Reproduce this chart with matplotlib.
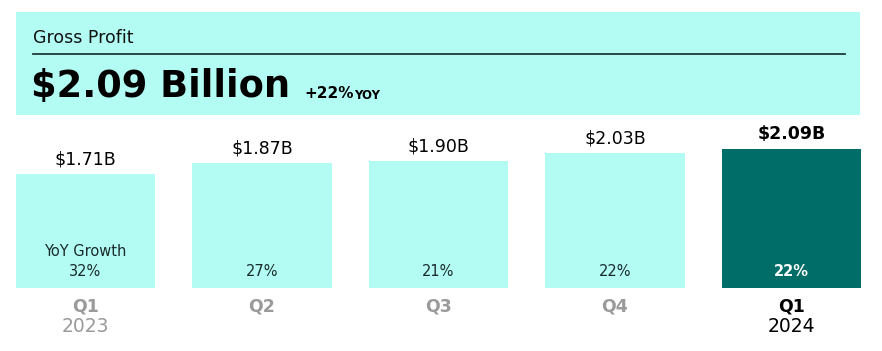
import matplotlib.pyplot as plt
from matplotlib.patches import Rectangle
from matplotlib.lines import Line2D

# data
quarters = ['Q1', 'Q2', 'Q3', 'Q4', 'Q1']
years = ['2023', '', '', '', '2024']
gross_profit = [1.71, 1.87, 1.90, 2.03, 2.09]  # $ billions
yoy_growth = [32, 27, 21, 22, 22]  # percent

light = '#b3fcf4'
dark = '#006d68'

W, H = 882, 351
fig = plt.figure(figsize=(W / 100, H / 100), dpi=100)


def fx(px):
    return px / W


def fy(py):
    return 1 - py / H


# header panel
fig.patches.append(Rectangle((fx(16), fy(115)), fx(860) - fx(16), fy(12) - fy(115),
                             transform=fig.transFigure, facecolor=light, edgecolor='none', zorder=0))
fig.lines.append(Line2D([fx(33), fx(845)], [fy(54), fy(54)], transform=fig.transFigure,
                        color='#1d3b3a', lw=1.3))
fig.text(fx(33), fy(38), 'Gross Profit', fontsize=12.5, va='center', ha='left', color='#111')
fig.text(fx(31), fy(87), '$2.09 Billion', fontsize=26.5, fontweight='bold', va='center', ha='left', color='#000')
fig.text(fx(304), fy(94), '+22%', fontsize=11, fontweight='bold', va='center', ha='left', color='#000')
fig.text(fx(354), fy(95), 'YOY', fontsize=8.5, fontweight='bold', va='center', ha='left', color='#000')

# bar axes: bottom at px 288, ~66.6 px per billion
ax = fig.add_axes([fx(16), fy(288), fx(861) - fx(16), fy(121) - fy(288)])
ax.set_xlim(-0.394, 4.394)
ax.set_ylim(0, 167 / 66.6)
ax.axis('off')

x = range(len(gross_profit))
colors = [light] * 4 + [dark]
ax.bar(x, gross_profit, width=0.788, color=colors)

for i, v in enumerate(gross_profit):
    last = i == len(gross_profit) - 1
    ax.annotate(f'${v:.2f}B', (i, v), xytext=(0, 4), textcoords='offset points',
                ha='center', va='bottom', fontsize=12.5,
                fontweight='bold' if last else 'normal', color='#000')
    ax.annotate(f'{yoy_growth[i]}%', (i, 0), xytext=(0, 12), textcoords='offset points',
                ha='center', va='center', fontsize=10.5,
                fontweight='bold' if last else 'normal', color='white' if last else '#1a2a2a')
    if i == 0:
        ax.annotate('YoY Growth', (i, 0), xytext=(0, 26), textcoords='offset points',
                    ha='center', va='center', fontsize=10.5, color='#1a2a2a')
    qcolor = '#000' if last else '#9a9a9a'
    ax.annotate(quarters[i], (i, 0), xytext=(0, -13), textcoords='offset points',
                ha='center', va='center', fontsize=12.5, fontweight='bold', color=qcolor)
    if years[i]:
        ax.annotate(years[i], (i, 0), xytext=(0, -28), textcoords='offset points',
                    ha='center', va='center', fontsize=13.5, color=qcolor)

fig.savefig('out.png', dpi=100, facecolor='white')
